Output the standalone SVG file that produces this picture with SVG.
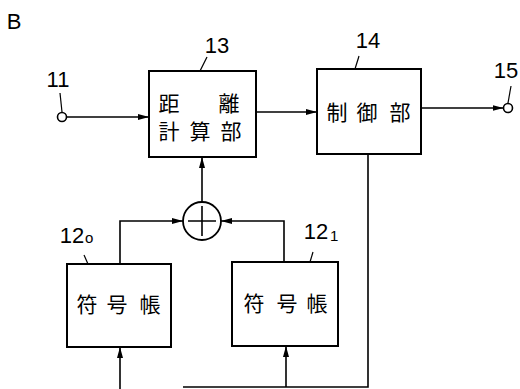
<svg xmlns="http://www.w3.org/2000/svg" width="520" height="389" viewBox="0 0 520 389">
<style>
.box{fill:#fff;stroke:#000;stroke-width:2}
.ln{fill:none;stroke:#000;stroke-width:1.6}
.ld{fill:none;stroke:#000;stroke-width:1.2}
.num{font-family:"Liberation Sans",Arial,sans-serif;font-size:22px;fill:#000;text-anchor:middle}
.sub{font-family:"Liberation Sans",Arial,sans-serif;font-size:15px;fill:#000;text-anchor:start}
.cjk{font-family:"Noto Sans CJK JP","Noto Sans CJK SC",sans-serif;font-size:21px;fill:#000;text-anchor:middle}
</style>
<defs>
<marker id="ah" markerWidth="12" markerHeight="8" refX="11" refY="4" orient="auto" markerUnits="userSpaceOnUse">
<path d="M0,1 L11,4 L0,7 Z" fill="#000"/>
</marker>
</defs>
<rect width="520" height="389" fill="#fff"/>
<text x="14" y="29" class="num" font-size="20">B</text>

<g id="connectors">
<path class="ln" d="M66.5,117 H149" marker-end="url(#ah)"/>
<path class="ln" d="M256,112 H317" marker-end="url(#ah)"/>
<path class="ln" d="M421,108 H503.5" marker-end="url(#ah)"/>
<path class="ln" d="M202,202 V157" marker-end="url(#ah)"/>
<path class="ln" d="M120,264 V221 H183" marker-end="url(#ah)"/>
<path class="ln" d="M284,262 V221 H221" marker-end="url(#ah)"/>
<path class="ln" d="M368,154 V387 H183"/>
<path class="ln" d="M286,387 V346" marker-end="url(#ah)"/>
<path class="ln" d="M120,389 V347" marker-end="url(#ah)"/>
</g>

<g id="in11">
<circle cx="62" cy="117" r="4.5" fill="#fff" stroke="#000" stroke-width="1.6"/>
<path class="ld" d="M62,112 L60,93"/>
<text x="58" y="87" class="num">11</text>
</g>

<g id="out15">
<circle cx="508" cy="108" r="4.5" fill="#fff" stroke="#000" stroke-width="1.6"/>
<path class="ld" d="M508,103 L511,86"/>
<text x="506" y="78" class="num">15</text>
</g>

<g id="n13">
<rect x="149" y="71" width="107" height="86" class="box"/>
<path class="ld" d="M200,71 L207,57"/>
<text x="217" y="53" class="num">13</text>
<text x="169" y="111" class="cjk">距</text>
<text x="229" y="111" class="cjk">離</text>
<text x="169" y="139" class="cjk">計</text>
<text x="200" y="139" class="cjk">算</text>
<text x="231" y="139" class="cjk">部</text>
</g>

<g id="n14">
<rect x="317" y="69" width="104" height="85" class="box"/>
<path class="ld" d="M355,69 L359,56"/>
<text x="368" y="48" class="num">14</text>
<text x="337" y="120" class="cjk">制</text>
<text x="367" y="120" class="cjk">御</text>
<text x="400" y="120" class="cjk">部</text>
</g>

<g id="adder">
<circle cx="202" cy="221" r="19" fill="#fff" stroke="#000" stroke-width="1.8"/>
<path class="ln" d="M188,221 H216 M202,206 V236"/>
</g>

<g id="n12_0">
<rect x="67" y="264" width="104" height="83" class="box"/>
<path class="ld" d="M84,255 L88,264"/>
<text x="72" y="243" class="num">12</text>
<text x="85" y="243" class="sub">o</text>
<text x="87" y="312" class="cjk">符</text>
<text x="117" y="312" class="cjk">号</text>
<text x="150" y="312" class="cjk">帳</text>
</g>

<g id="n12_1">
<rect x="232" y="262" width="106" height="84" class="box"/>
<path class="ld" d="M313,252 L310,262"/>
<text x="316" y="239" class="num">12</text>
<text x="330" y="241" class="sub">1</text>
<text x="254" y="311" class="cjk">符</text>
<text x="287" y="311" class="cjk">号</text>
<text x="317" y="311" class="cjk">帳</text>
</g>
</svg>
